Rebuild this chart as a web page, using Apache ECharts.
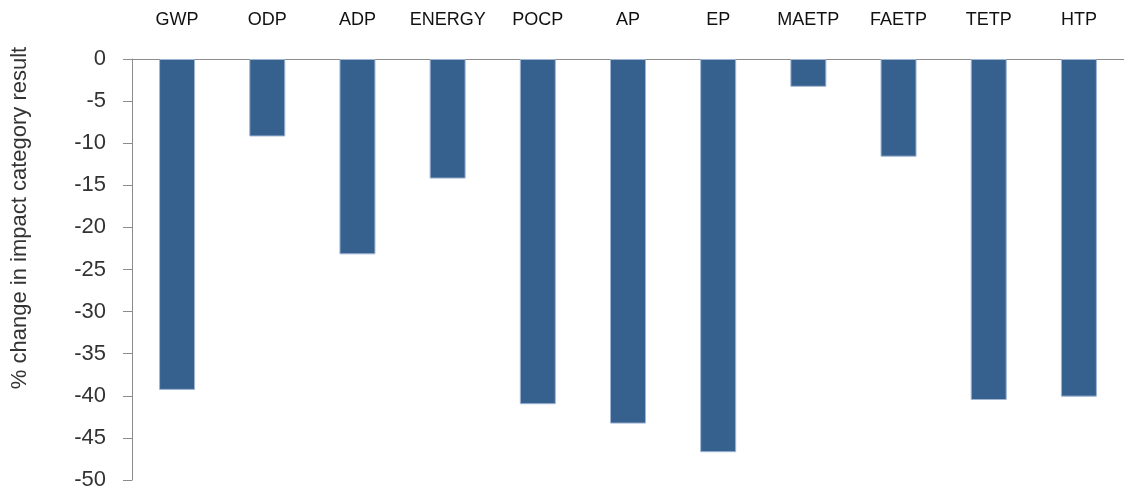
<!DOCTYPE html>
<html>
<head>
<meta charset="utf-8">
<script src="https://cdn.jsdelivr.net/npm/echarts@6/dist/echarts.min.js"></script>
<style>
  html, body { margin: 0; padding: 0; background: #ffffff; }
  #chart { width: 1124px; height: 492px; }
</style>
</head>
<body>
<div id="chart"></div>
<script>
// Impact categories and the % change in each category result
const categories = ['GWP', 'ODP', 'ADP', 'ENERGY', 'POCP', 'AP', 'EP', 'MAETP', 'FAETP', 'TETP', 'HTP'];
const changeValues = [-39.3, -9.2, -23.2, -14.2, -41.0, -43.3, -46.7, -3.3, -11.6, -40.5, -40.1];
const yAxisTitle = '% change in impact category result';

const chart = echarts.init(document.getElementById('chart'), null, { renderer: 'canvas' });

chart.setOption({
  animation: false,
  backgroundColor: '#ffffff',
  grid: { left: 132, top: 59, width: 994, height: 421, containLabel: false },
  xAxis: {
    type: 'category',
    data: categories,
    position: 'top',
    axisLine: { show: true, lineStyle: { color: '#8c8c8c', width: 1 } },
    axisTick: { show: false },
    axisLabel: {
      interval: 0,
      margin: 30,
      fontFamily: 'Liberation Sans',
      fontSize: 18,
      color: '#111111'
    },
    splitLine: { show: false }
  },
  yAxis: {
    type: 'value',
    min: -50,
    max: 0,
    interval: 5,
    axisLine: { show: true, lineStyle: { color: '#8c8c8c', width: 1 } },
    axisTick: { show: true, inside: false, length: 9, lineStyle: { color: '#8c8c8c' } },
    axisLabel: {
      margin: 26,
      fontFamily: 'Liberation Sans',
      fontSize: 22,
      color: '#333333'
    },
    splitLine: { show: false }
  },
  graphic: [{
    type: 'text',
    x: 20,
    y: 218,
    rotation: Math.PI / 2,
    style: {
      text: yAxisTitle,
      fontFamily: 'Liberation Sans',
      fontSize: 22,
      fill: '#333333',
      textAlign: 'center',
      textVerticalAlign: 'middle'
    }
  }],
  series: [{
    type: 'bar',
    data: changeValues,
    barWidth: 36,
    itemStyle: {
      color: '#36618f',
      borderColor: '#9fb5d2',
      borderWidth: 1
    }
  }]
});
</script>
</body>
</html>
